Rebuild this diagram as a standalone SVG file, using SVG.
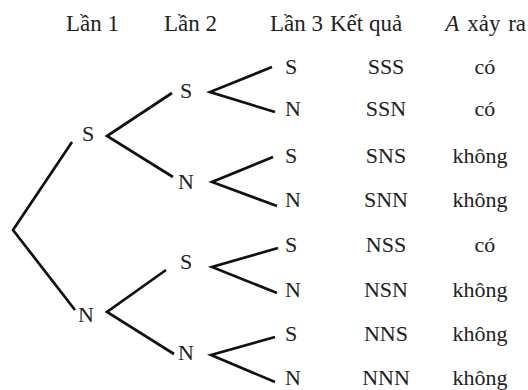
<svg xmlns="http://www.w3.org/2000/svg" width="528" height="390" viewBox="0 0 528 390" font-family="'Liberation Serif', 'Times New Roman', Times, serif">
<style>
text{font-size:22px;fill:#222}
.h{font-size:23px}
.c{text-anchor:middle}
.ln{fill:none;stroke:#111;stroke-width:2.7;stroke-linecap:butt;stroke-linejoin:miter}
</style>
<rect width="528" height="390" fill="#fff"/>
<g id="header">
<text class="h" x="66" y="31">Lần 1</text>
<text class="h" x="164" y="31">Lần 2</text>
<text class="h" x="270" y="31">Lần 3</text>
<text class="h" x="330" y="31">Kết quả</text>
<text class="h" x="526" y="31" text-anchor="end" word-spacing="2" font-size="24"><tspan font-style="italic">A</tspan> xảy ra</text>
</g>
<g id="connectors">
<path class="ln" d="M72,142 L13,230 L75,310"/>
<path class="ln" d="M172,93 L107,136 L173,177"/>
<path class="ln" d="M166,270 L107,312 L174,354"/>
<path class="ln" d="M272,67 L210,92 L275,112"/>
<path class="ln" d="M273,157 L212,182 L277,206"/>
<path class="ln" d="M278,248 L212,267 L277,293"/>
<path class="ln" d="M275,337 L211,355 L275,382"/>
</g>
<g id="n1S"><text x="82" y="141">S</text></g>
<g id="n1N"><text x="78" y="322">N</text></g>
<g id="n2SS"><text x="180" y="98">S</text></g>
<g id="n2SN"><text x="178" y="189">N</text></g>
<g id="n2NS"><text x="180" y="269">S</text></g>
<g id="n2NN"><text x="178" y="360">N</text></g>
<g id="leafSSS"><text x="285" y="74">S</text><text class="c" x="386" y="74">SSS</text><text class="c" x="485" y="74">có</text></g>
<g id="leafSSN"><text x="285" y="116">N</text><text class="c" x="386" y="116">SSN</text><text class="c" x="485" y="116">có</text></g>
<g id="leafSNS"><text x="285" y="163">S</text><text class="c" x="386" y="163">SNS</text><text class="c" x="480" y="163">không</text></g>
<g id="leafSNN"><text x="285" y="207">N</text><text class="c" x="386" y="207">SNN</text><text class="c" x="480" y="207">không</text></g>
<g id="leafNSS"><text x="285" y="252">S</text><text class="c" x="386" y="252">NSS</text><text class="c" x="485" y="252">có</text></g>
<g id="leafNSN"><text x="285" y="297">N</text><text class="c" x="386" y="297">NSN</text><text class="c" x="480" y="297">không</text></g>
<g id="leafNNS"><text x="285" y="341">S</text><text class="c" x="386" y="341">NNS</text><text class="c" x="480" y="341">không</text></g>
<g id="leafNNN"><text x="285" y="385">N</text><text class="c" x="386" y="385">NNN</text><text class="c" x="480" y="385">không</text></g>
</svg>
